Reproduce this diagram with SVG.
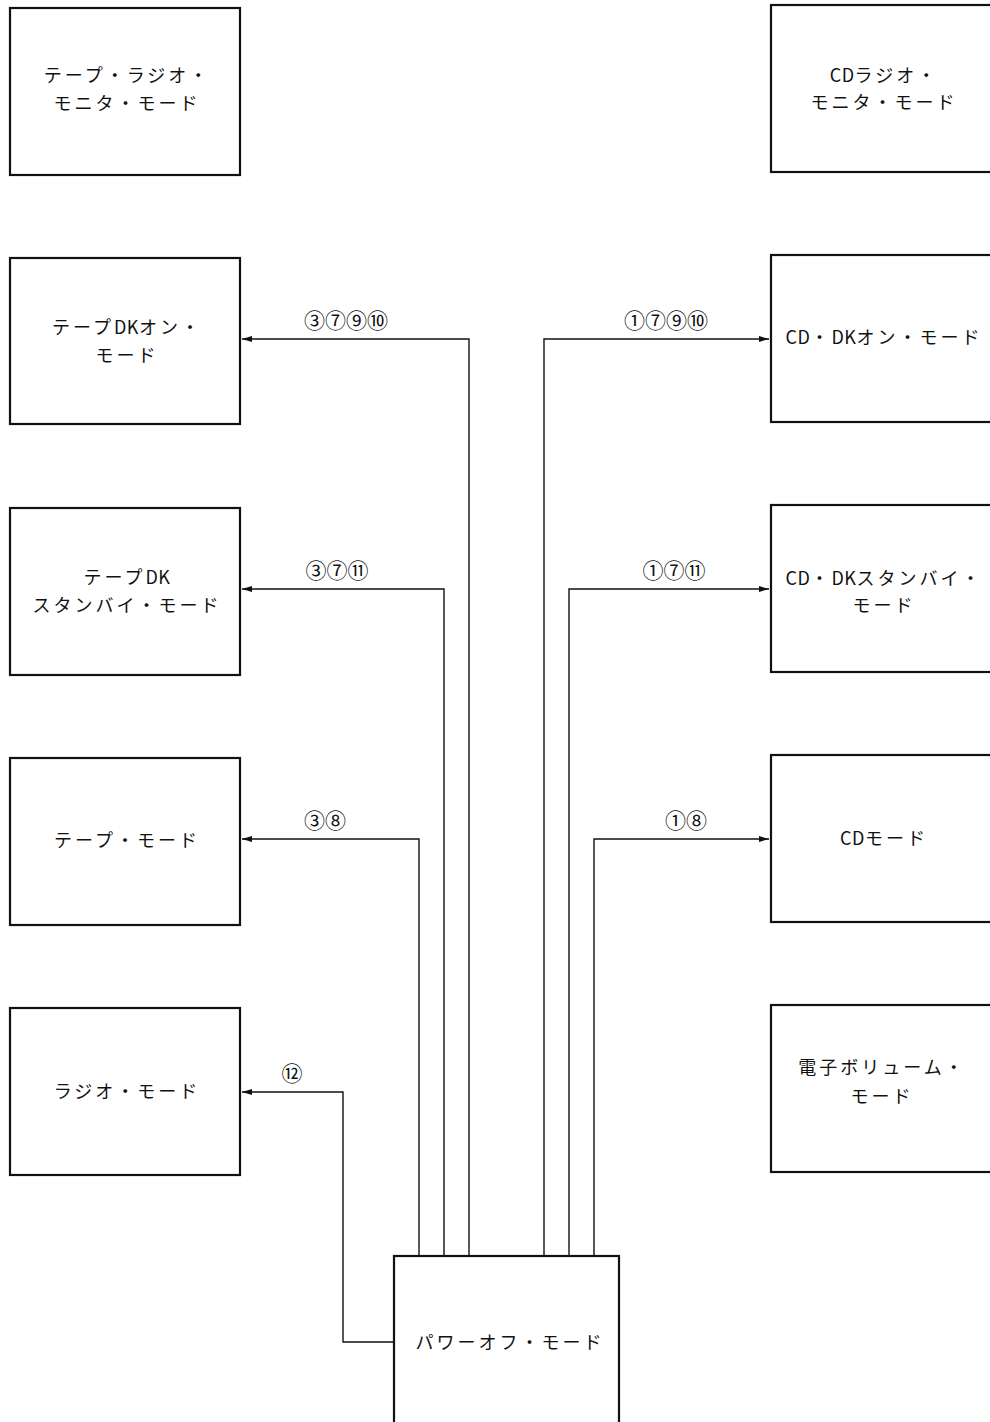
<svg xmlns="http://www.w3.org/2000/svg" width="990" height="1422" viewBox="0 0 990 1422">
<style>
.box{fill:#fff;stroke:#111;stroke-width:2.2}
.t{font-family:"Noto Sans CJK JP","Noto Sans",sans-serif;font-size:18px;fill:#111;text-anchor:middle;letter-spacing:3px}
.la{letter-spacing:0.5px}
.l{font-family:"Noto Sans CJK JP","Noto Sans",sans-serif;font-size:21px;fill:#111;text-anchor:middle}
.c{fill:none;stroke:#111;stroke-width:1.4}
</style>
<defs>
<marker id="ah" viewBox="0 0 10 6" refX="10" refY="3" markerWidth="10" markerHeight="6" markerUnits="userSpaceOnUse" orient="auto">
<path d="M0,0 L10,3 L0,6 Z" fill="#111"/>
</marker>
</defs>
<rect width="990" height="1422" fill="#fff"/>
<g id="connectors">
<polyline class="c" points="469,1256 469,339 242,339" marker-end="url(#ah)"/>
<polyline class="c" points="444,1256 444,589 242,589" marker-end="url(#ah)"/>
<polyline class="c" points="419,1256 419,839 242,839" marker-end="url(#ah)"/>
<polyline class="c" points="394,1342 343,1342 343,1092 242,1092" marker-end="url(#ah)"/>
<polyline class="c" points="544,1256 544,339 769,339" marker-end="url(#ah)"/>
<polyline class="c" points="569,1256 569,589 769,589" marker-end="url(#ah)"/>
<polyline class="c" points="594,1256 594,839 769,839" marker-end="url(#ah)"/>
<text class="l" x="346" y="328">③⑦⑨⑩</text>
<text class="l" x="337" y="578">③⑦⑪</text>
<text class="l" x="325" y="828">③⑧</text>
<text class="l" x="292" y="1081">⑫</text>
<text class="l" x="666" y="328">①⑦⑨⑩</text>
<text class="l" x="674" y="578">①⑦⑪</text>
<text class="l" x="686" y="828">①⑧</text>
</g>
<g id="tape-radio-monitor">
<rect class="box" x="10" y="8" width="230" height="167"/>
<text class="t" x="127" y="82">テープ・ラジオ・</text>
<text class="t" x="127" y="110">モニタ・モード</text>
</g>
<g id="tape-dk-on">
<rect class="box" x="10" y="258" width="230" height="166"/>
<text class="t" x="127" y="334">テープ<tspan class="la">DK</tspan>オン・</text>
<text class="t" x="127" y="362">モード</text>
</g>
<g id="tape-dk-standby">
<rect class="box" x="10" y="508" width="230" height="167"/>
<text class="t" x="127" y="584">テープ<tspan class="la">DK</tspan></text>
<text class="t" x="127" y="612">スタンバイ・モード</text>
</g>
<g id="tape">
<rect class="box" x="10" y="758" width="230" height="167"/>
<text class="t" x="127" y="847">テープ・モード</text>
</g>
<g id="radio">
<rect class="box" x="10" y="1008" width="230" height="167"/>
<text class="t" x="127" y="1098">ラジオ・モード</text>
</g>
<g id="cd-radio-monitor">
<rect class="box" x="771" y="5" width="240" height="167"/>
<text class="t" x="884" y="82"><tspan class="la">CD</tspan>ラジオ・</text>
<text class="t" x="884" y="109">モニタ・モード</text>
</g>
<g id="cd-dk-on">
<rect class="box" x="771" y="255" width="240" height="167"/>
<text class="t" x="884" y="344"><tspan class="la">CD</tspan>・<tspan class="la">DK</tspan>オン・モード</text>
</g>
<g id="cd-dk-standby">
<rect class="box" x="771" y="505" width="240" height="167"/>
<text class="t" x="884" y="585"><tspan class="la">CD</tspan>・<tspan class="la">DK</tspan>スタンバイ・</text>
<text class="t" x="884" y="612">モード</text>
</g>
<g id="cd">
<rect class="box" x="771" y="755" width="240" height="167"/>
<text class="t" x="884" y="845"><tspan class="la">CD</tspan>モード</text>
</g>
<g id="e-volume">
<rect class="box" x="771" y="1005" width="240" height="167"/>
<text class="t" x="882" y="1074">電子ボリューム・</text>
<text class="t" x="882" y="1103">モード</text>
</g>
<g id="power-off">
<rect class="box" x="394" y="1256" width="225" height="180"/>
<text class="t" x="510" y="1349">パワーオフ・モード</text>
</g>
</svg>
